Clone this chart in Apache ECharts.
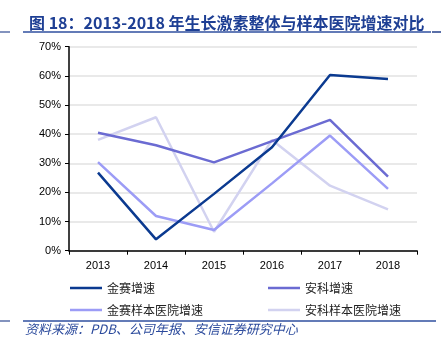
<!DOCTYPE html>
<html>
<head>
<meta charset="utf-8">
<script src="https://cdn.jsdelivr.net/npm/echarts@6/dist/echarts.min.js"></script>
<style>html,body{margin:0;padding:0;background:#fff;}#c{width:448px;height:350px;}</style>
</head>
<body>
<div id="c"></div>
<script>
var years = ['2013', '2014', '2015', '2016', '2017', '2018'];
var jinsaiGrowth = [26.8, 3.9, 19.5, 35.5, 60.3, 58.9];
var ankeGrowth = [40.5, 36.2, 30.3, 37.6, 44.9, 25.4];
var jinsaiHospital = [30.4, 11.9, 7.1, 23.1, 39.5, 21.2];
var ankeHospital = [38.0, 45.8, 6.5, 38.0, 22.3, 14.2];
var seriesNames = ['金赛增速', '安科增速', '金赛样本医院增速', '安科样本医院增速'];
var titleText = '图 18：2013-2018 年生长激素整体与样本医院增速对比';
var sourceText = '资料来源：PDB、公司年报、安信证券研究中心';

var chart = echarts.init(document.getElementById('c'), null, {renderer: 'canvas'});
var cjk = '"Noto Sans CJK SC", "Liberation Sans", sans-serif';
var colors = ['#0b3a90', '#6b6bd2', '#9c9cf6', '#d2d2f0'];
var dataSets = [jinsaiGrowth, ankeGrowth, jinsaiHospital, ankeHospital];

var series = dataSets.map(function (d, i) {
  return {
    name: seriesNames[i],
    type: 'line',
    data: d,
    symbol: 'none',
    lineStyle: {color: colors[i], width: 2.5},
    itemStyle: {color: colors[i]},
    z: [5, 4, 3, 2][i],
    animation: false
  };
});

var option = {
  animation: false,
  title: {
    text: titleText,
    left: 24,
    top: 10,
    textStyle: {fontFamily: cjk, fontSize: 16, fontWeight: 'bold', color: '#1e3f94'}
  },
  legend: [
    {
      data: [seriesNames[0], seriesNames[1]],
      left: 65, top: 277,
      itemWidth: 32, itemHeight: 10, itemGap: 113,
      icon: 'path://M0,4 L32,4 L32,6.5 L0,6.5 Z',
      textStyle: {fontFamily: cjk, fontSize: 12, color: '#222'}
    },
    {
      data: [seriesNames[2], seriesNames[3]],
      left: 65, top: 299,
      itemWidth: 32, itemHeight: 10, itemGap: 65,
      icon: 'path://M0,4 L32,4 L32,6.5 L0,6.5 Z',
      textStyle: {fontFamily: cjk, fontSize: 12, color: '#222'}
    }
  ],
  grid: {left: 69, right: 31, top: 46.7, bottom: 99.3, containLabel: false},
  xAxis: {
    type: 'category',
    data: years,
    boundaryGap: true,
    axisLine: {lineStyle: {color: '#000', width: 1.5}},
    axisTick: {show: true, interval: 0, length: 4, lineStyle: {color: '#000', width: 1}},
    axisLabel: {fontFamily: '"Liberation Sans", Arial, sans-serif', fontSize: 11, color: '#000', margin: 10, interval: 0}
  },
  yAxis: {
    type: 'value',
    min: 0, max: 70, interval: 10,
    axisLine: {show: true, lineStyle: {color: '#000', width: 1.5}},
    axisTick: {show: true, length: 4, lineStyle: {color: '#000', width: 1}},
    axisLabel: {fontFamily: '"Liberation Sans", Arial, sans-serif', fontSize: 11, color: '#000', margin: 8, formatter: '{value}%'},
    splitLine: {show: true, lineStyle: {color: '#e2e2e2', width: 1.5}}
  },
  series: series,
  graphic: [
    {type: 'line', shape: {x1: 23, y1: 32, x2: 431, y2: 32}, style: {stroke: '#2f4f9f', lineWidth: 1.5}},
    {type: 'line', shape: {x1: 0, y1: 32, x2: 10, y2: 32}, style: {stroke: '#5a6fa8', lineWidth: 1.5}},
    {type: 'line', shape: {x1: 432, y1: 32, x2: 441, y2: 32}, style: {stroke: '#5a6fa8', lineWidth: 2}},
    {type: 'line', shape: {x1: 23, y1: 321, x2: 436, y2: 321}, style: {stroke: '#2f4f9f', lineWidth: 1.5}},
    {type: 'line', shape: {x1: 0, y1: 321, x2: 10, y2: 321}, style: {stroke: '#5a6fa8', lineWidth: 1.5}},
    {
      type: 'text', left: 25, top: 323,
      style: {text: sourceText, fontFamily: cjk, fontSize: 13, fontStyle: 'italic', fill: '#2b4a9c'}
    }
  ]
};
chart.setOption(option);
</script>
</body>
</html>
